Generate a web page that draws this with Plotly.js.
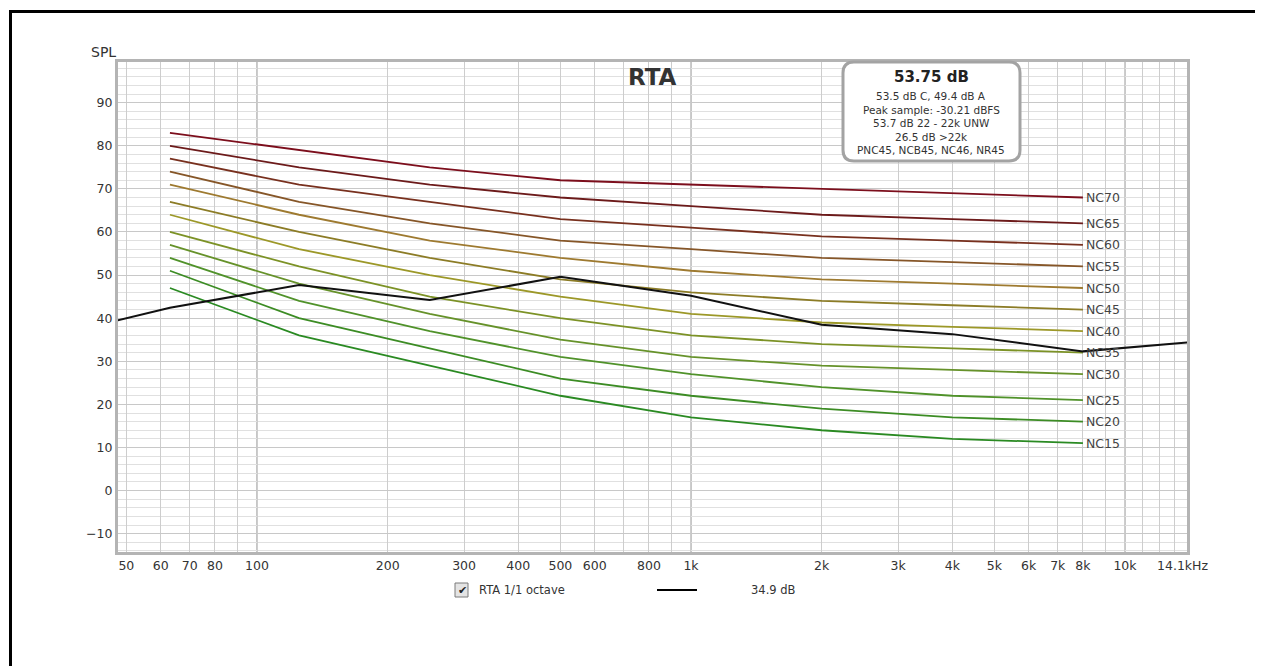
<!DOCTYPE html>
<html><head><meta charset="utf-8">
<script src="https://cdn.plot.ly/plotly-3.0.1.min.js"></script>
<style>
html,body{margin:0;padding:0;background:#fff;overflow:hidden;width:1262px;height:666px;}
#wrap{position:relative;width:1262px;height:666px;overflow:hidden;}
#chart{position:absolute;left:0;top:0;width:1262px;height:666px;}
#frameTop{position:absolute;left:9px;top:10px;width:1246px;height:3px;background:#000;pointer-events:none;}
#frameLeft{position:absolute;left:9px;top:10px;width:3px;height:656px;background:#000;pointer-events:none;}
</style></head><body>
<div id="wrap"><div id="chart"></div><div id="frameTop"></div><div id="frameLeft"></div></div>
<script>
// ---- data ----
const bandsHz = [63, 125, 250, 500, 1000, 2000, 4000, 8000];
const ncNames = ['NC15','NC20','NC25','NC30','NC35','NC40','NC45','NC50','NC55','NC60','NC65','NC70'];
const nc15 = [47, 36, 29, 22, 17, 14, 12, 11];
const nc20 = [51, 40, 33, 26, 22, 19, 17, 16];
const nc25 = [54, 44, 37, 31, 27, 24, 22, 21];
const nc30 = [57, 48, 41, 35, 31, 29, 28, 27];
const nc35 = [60, 52, 45, 40, 36, 34, 33, 32];
const nc40 = [64, 56, 50, 45, 41, 39, 38, 37];
const nc45 = [67, 60, 54, 49, 46, 44, 43, 42];
const nc50 = [71, 64, 58, 54, 51, 49, 48, 47];
const nc55 = [74, 67, 62, 58, 56, 54, 53, 52];
const nc60 = [77, 71, 67, 63, 61, 59, 58, 57];
const nc65 = [80, 75, 71, 68, 66, 64, 63, 62];
const nc70 = [83, 79, 75, 72, 71, 70, 69, 68];
const ncSeries = [nc15, nc20, nc25, nc30, nc35, nc40, nc45, nc50, nc55, nc60, nc65, nc70];
const ncColors = ['#2a8a22','#3c8c24','#50922a','#66922a','#7c9226','#9c9828','#8c7c26','#9e7a30','#865628','#78301e','#6c1a1a','#7c0e1c'];

const rtaName = 'RTA 1/1 octave';
const rtaValue = '34.9 dB';
const rtaHz = [31.5, 63, 125, 250, 500, 1000, 2000, 4000, 8000, 16000];
const rtaSPL = [35.1, 42.4, 47.7, 44.2, 49.6, 45.2, 38.5, 36.3, 32.3, 34.9];

const xTickVals = [50,60,70,80,90,100,200,300,400,500,600,700,800,900,1000,2000,3000,4000,5000,6000,7000,8000,9000,10000,11000,12000,13000];
const xTickText = ['50','60','70','80','','100','200','300','400','500','600','','800','','1k','2k','3k','4k','5k','6k','7k','8k','','10k','','',''];
const xEndLabel = '14.1kHz';
const decadeLines = [100, 1000, 10000];

const chartTitle = 'RTA';
const yLabel = 'SPL';
const infoMain = '53.75 dB';
const infoLines = ['53.5 dB C, 49.4 dB A', 'Peak sample: -30.21 dBFS', '53.7 dB 22 - 22k UNW', '26.5 dB >22k', 'PNC45, NCB45, NC46, NR45'];

// ---- geometry ----
const W = 1262, H = 666;
const M = {l: 118, r: 75, t: 62, b: 114};
const PW = W - M.l - M.r, PH = H - M.t - M.b;
const px = v => (v - M.l) / PW;
const py = v => (H - M.b - v) / PH;
const FONT = 'DejaVu Sans, Liberation Sans, Arial, sans-serif';

const traces = [];
ncSeries.forEach((s, i) => {
  traces.push({x: bandsHz, y: s, type: 'scatter', mode: 'lines', name: ncNames[i],
    line: {color: ncColors[i], width: 1.8}, hoverinfo: 'skip', showlegend: false});
});
traces.push({x: rtaHz, y: rtaSPL, type: 'scatter', mode: 'lines', name: rtaName,
  line: {color: '#111', width: 2}, hoverinfo: 'skip', showlegend: false});

const shapes = [];
decadeLines.forEach(d => shapes.push({type: 'line', xref: 'x', yref: 'paper', x0: d, x1: d, y0: 0, y1: 1,
  layer: 'between', line: {color: '#8c8c8c', width: 1}}));

// rounded info box
(function(){
  const x0 = 843, x1 = 1020, y0 = 62, y1 = 161, r = 11;
  const P = (a, b) => px(a).toFixed(5) + ',' + py(b).toFixed(5);
  const path = 'M' + P(x0 + r, y0) + ' L' + P(x1 - r, y0) + ' Q' + P(x1, y0) + ' ' + P(x1, y0 + r) +
    ' L' + P(x1, y1 - r) + ' Q' + P(x1, y1) + ' ' + P(x1 - r, y1) +
    ' L' + P(x0 + r, y1) + ' Q' + P(x0, y1) + ' ' + P(x0, y1 - r) +
    ' L' + P(x0, y0 + r) + ' Q' + P(x0, y0) + ' ' + P(x0 + r, y0) + ' Z';
  shapes.push({type: 'path', xref: 'paper', yref: 'paper', path: path, fillcolor: '#ffffff',
    line: {color: '#a3a3a3', width: 3}, layer: 'above'});
})();

// legend: checkbox and line sample
shapes.push({type: 'rect', xref: 'paper', yref: 'paper', x0: px(455), x1: px(468), y0: py(597), y1: py(583),
  fillcolor: '#e4e4e4', line: {color: '#7a7a7a', width: 1}});
shapes.push({type: 'line', xref: 'paper', yref: 'paper', x0: px(657), x1: px(697), y0: py(590), y1: py(590),
  line: {color: '#000', width: 2}});

const annotations = [];
ncSeries.forEach((s, i) => {
  annotations.push({x: Math.log10(bandsHz[bandsHz.length - 1]), y: s[s.length - 1], xref: 'x', yref: 'y',
    text: ncNames[i], showarrow: false, xanchor: 'left', yanchor: 'middle', xshift: 1,
    font: {family: FONT, size: 12.5, color: '#444'}});
});
annotations.push({xref: 'paper', yref: 'paper', x: 0.5, y: py(77), text: '<b>' + chartTitle + '</b>', showarrow: false,
  xanchor: 'center', yanchor: 'middle', font: {family: FONT, size: 23, color: '#333'}});
annotations.push({xref: 'paper', yref: 'paper', x: px(103), y: py(52), text: yLabel, showarrow: false,
  xanchor: 'center', yanchor: 'middle', font: {family: FONT, size: 14, color: '#333'}});
annotations.push({xref: 'paper', yref: 'paper', x: px(1182), y: py(565), text: xEndLabel, showarrow: false,
  xanchor: 'center', yanchor: 'middle', font: {family: FONT, size: 12.5, color: '#333'}});
annotations.push({xref: 'paper', yref: 'paper', x: px(931), y: py(77), text: '<b>' + infoMain + '</b>', showarrow: false,
  xanchor: 'center', yanchor: 'middle', font: {family: FONT, size: 15, color: '#222'}});
infoLines.forEach((t, i) => {
  annotations.push({xref: 'paper', yref: 'paper', x: px(931), y: py(96 + i * 13.5), text: t, showarrow: false,
    xanchor: 'center', yanchor: 'middle', font: {family: FONT, size: 10.5, color: '#333'}});
});
annotations.push({xref: 'paper', yref: 'paper', x: px(462), y: py(590), text: '✔', showarrow: false,
  xanchor: 'center', yanchor: 'middle', font: {family: FONT, size: 11, color: '#222'}});
annotations.push({xref: 'paper', yref: 'paper', x: px(477), y: py(590), text: rtaName, showarrow: false,
  xanchor: 'left', yanchor: 'middle', font: {family: FONT, size: 11.5, color: '#333'}});
annotations.push({xref: 'paper', yref: 'paper', x: px(749), y: py(590), text: rtaValue, showarrow: false,
  xanchor: 'left', yanchor: 'middle', font: {family: FONT, size: 11.5, color: '#333'}});

const layout = {
  width: W, height: H, margin: M, paper_bgcolor: '#fff', plot_bgcolor: '#fff',
  font: {family: FONT, size: 12.5, color: '#333'},
  showlegend: false,
  xaxis: {type: 'log', range: [1.6797, 4.1429], tickmode: 'array', tickvals: xTickVals, ticktext: xTickText,
    showgrid: true, gridcolor: '#cdcdcd', gridwidth: 1, zeroline: false, ticks: '',
    showline: true, mirror: true, linecolor: '#b4b4b4', linewidth: 3,
    tickfont: {family: FONT, size: 12.5, color: '#333'}},
  yaxis: {range: [-14.25, 99.44], tickmode: 'linear', tick0: -10, dtick: 10,
    showgrid: true, gridcolor: '#c8c8c8', gridwidth: 1, zeroline: false, ticks: '',
    minor: {dtick: 2, tick0: 0, showgrid: true, gridcolor: '#e0e0e0', gridwidth: 1},
    showline: true, mirror: true, linecolor: '#b4b4b4', linewidth: 3,
    tickfont: {family: FONT, size: 12.5, color: '#333'}},
  shapes: shapes, annotations: annotations
};

Plotly.newPlot('chart', traces, layout, {displayModeBar: false, staticPlot: true});
</script>
</body></html>
